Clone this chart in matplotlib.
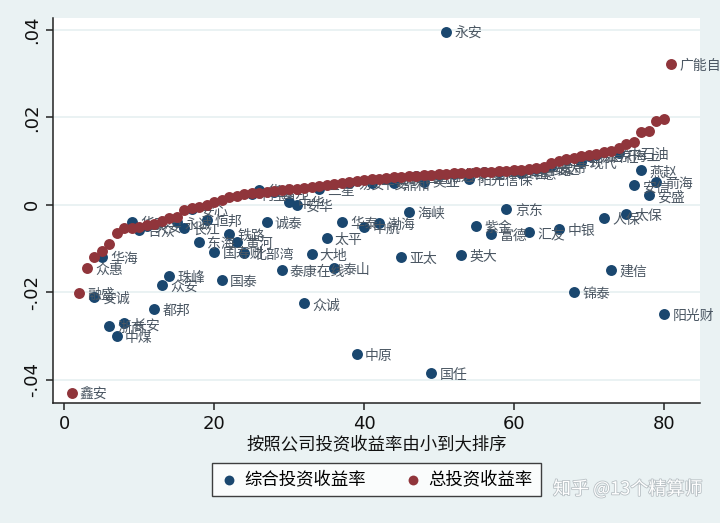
import numpy as np
import matplotlib.pyplot as plt
import matplotlib.patheffects as pe

plt.rcParams['font.family'] = ['Noto Sans CJK SC', 'DejaVu Sans']

# company short names, ordered by total investment return (rank 1..81)
names = ['鑫安', '融盛', '众惠', '安诚', '华海', '浙商', '中煤', '长安', '华农', '合众',
         '天安', '都邦', '众安', '珠峰', '永诚', '长江', '安心', '东海', '恒邦', '国寿财',
         '国泰', '铁路', '黄河', '北部湾', '利宝', '华安', '诚泰', '富邦', '泰康在线', '中华',
         '安华', '众诚', '大地', '三星', '太平', '泰山', '华泰', '易安', '中原', '中航',
         '平安', '渤海', '安联', '鼎和', '亚太', '海峡', '国元', '美亚', '国任', '信达',
         '永安', '苏黎世', '英大', '阳光信保', '紫金', '日本', '富德', '乐爱金', '京东', '久隆',
         '中意', '汇友', '中路', '安达', '史带', '中银', '三井', '锦泰', '现代', '劳合社',
         '东京海上', '人保', '建信', '中石油', '太保', '安信', '燕赵', '安盛', '前海', '阳光财',
         '广能自']

# total investment return (red)
total_ret = [-0.0430, -0.0201, -0.0145, -0.0119, -0.0105, -0.0090, -0.0065, -0.0052, -0.0052, -0.0050,
             -0.0045, -0.0043, -0.0038, -0.0030, -0.0027, -0.0011, -0.0008, -0.0006, -0.0001, 0.0007,
             0.0012, 0.0017, 0.0020, 0.0024, 0.0026, 0.0028, 0.0030, 0.0032, 0.0034, 0.0036,
             0.0037, 0.0039, 0.0041, 0.0044, 0.0046, 0.0048, 0.0050, 0.0052, 0.0054, 0.0056,
             0.0058, 0.0060, 0.0061, 0.0063, 0.0064, 0.0066, 0.0067, 0.0068, 0.0069, 0.0070,
             0.0071, 0.0072, 0.0072, 0.0073, 0.0074, 0.0075, 0.0076, 0.0077, 0.0078, 0.0079,
             0.0080, 0.0082, 0.0084, 0.0087, 0.0095, 0.0100, 0.0105, 0.0108, 0.0111, 0.0114,
             0.0117, 0.0120, 0.0124, 0.0130, 0.0138, 0.0144, 0.0166, 0.0168, 0.0192, 0.0195,
             0.0322]

# composite investment return (blue), nan = not reported
comp_ret = [np.nan, np.nan, np.nan, -0.0210, -0.0120, -0.0277, -0.0300, -0.0271, -0.0040, -0.0058,
            -0.0048, -0.0238, -0.0184, -0.0162, -0.0040, -0.0053, -0.0010, -0.0085, -0.0035, -0.0107,
            -0.0172, -0.0067, -0.0085, -0.0110, 0.0024, 0.0034, -0.0039, 0.0030, -0.0148, 0.0007,
            0.0000, -0.0225, -0.0113, 0.0036, -0.0075, -0.0145, -0.0039, 0.0050, -0.0340, -0.0050,
            0.0050, -0.0042, 0.0060, 0.0049, -0.0119, -0.0017, 0.0065, 0.0053, -0.0385, 0.0068,
            0.0395, 0.0071, -0.0115, 0.0060, -0.0048, 0.0074, -0.0067, 0.0076, -0.0010, 0.0078,
            0.0072, -0.0062, 0.0082, 0.0085, 0.0088, -0.0056, 0.0103, -0.0200, 0.0099, 0.0112,
            0.0115, -0.0031, -0.0149, 0.0118, -0.0020, 0.0045, 0.0079, 0.0022, 0.0053, -0.0250,
            np.nan]

rank = np.arange(1, len(names) + 1)
total_ret = np.array(total_ret)
comp_ret = np.array(comp_ret)

blue = '#1a476f'
red = '#90353b'
bg = '#eaf2f3'
lab_col = '#4b5763'

fig = plt.figure(figsize=(7.2, 5.23), dpi=100, facecolor=bg)
ax = fig.add_axes([0.0736, 0.2294, 0.8986, 0.7362])
ax.set_facecolor('white')

ax.set_xlim(-1.47, 84.8)
ax.set_ylim(-0.0453, 0.0427)

# gridlines
yt = [-0.04, -0.02, 0, 0.02, 0.04]
for y in yt:
    ax.axhline(y, color=bg, lw=1.4, zorder=0)

ok = ~np.isnan(comp_ret)
ax.scatter(rank[ok], comp_ret[ok], s=62, color=blue, zorder=2, label='综合投资收益率', linewidths=0)
for x, y, n in zip(rank[ok], comp_ret[ok], np.array(names)[ok]):
    ax.annotate(n, (x, y), xytext=(6, -1.5), textcoords='offset points', va='center', ha='left',
                fontsize=10, color=lab_col, zorder=3)

# label red points only where composite return is missing
for x, y, n in zip(rank[~ok], total_ret[~ok], np.array(names)[~ok]):
    ax.annotate(n, (x, y), xytext=(6, -1.5), textcoords='offset points', va='center', ha='left',
                fontsize=10, color=lab_col, zorder=3)
ax.scatter(rank, total_ret, s=62, color=red, zorder=4, label='总投资收益率', linewidths=0)

for s in ['top', 'right']:
    ax.spines[s].set_visible(False)
for s in ['left', 'bottom']:
    ax.spines[s].set_color('#222222')
    ax.spines[s].set_linewidth(1.1)

ax.set_yticks(yt)
ax.set_yticklabels(['-.04', '-.02', '0', '.02', '.04'], rotation=90, va='center',
                   family=['Liberation Sans Narrow', 'DejaVu Sans'], fontsize=13)
ax.set_xticks([0, 20, 40, 60, 80])
ax.set_xticklabels(['0', '20', '40', '60', '80'], family=['Liberation Sans Narrow', 'DejaVu Sans'],
                   fontsize=13)
ax.tick_params(direction='out', length=5, width=1.1, color='#222222', labelcolor='#111111')
ax.set_xlabel('按照公司投资收益率由小到大排序', fontsize=12.5, color='#111111', labelpad=2)

leg = fig.legend(loc='center', bbox_to_anchor=(0.523, 0.083), ncol=2, frameon=True,
                 fancybox=False, edgecolor='#111111', fontsize=12.5, handletextpad=0.4,
                 columnspacing=2.2, borderpad=0.45, markerscale=0.9, handlelength=1.0)
leg.get_frame().set_linewidth(1.0)

fig.text(0.975, 0.065, '知乎 @13个精算师', ha='right', va='center', fontsize=13, color='white',
         path_effects=[pe.withStroke(linewidth=1.2, foreground='#b8c0c4')])

fig.savefig('out.png', dpi=100, facecolor=bg)
